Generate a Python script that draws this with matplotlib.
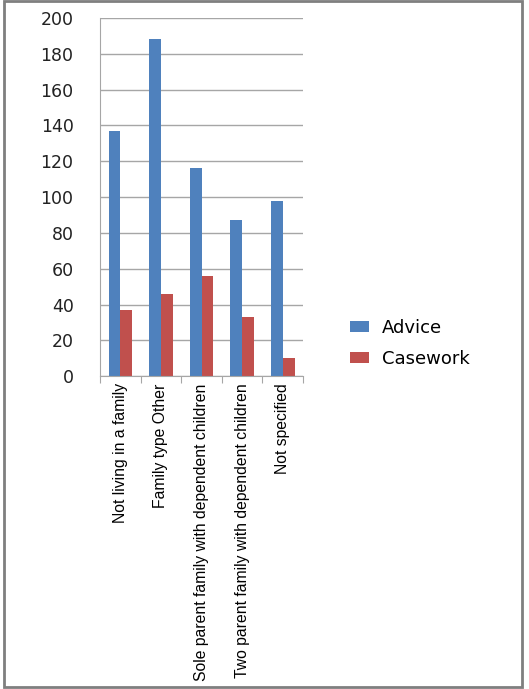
import matplotlib
matplotlib.use("Agg")
from matplotlib import pyplot as plt
from matplotlib.patches import Rectangle
import numpy as np

categories = ["Not living in a family", "Family type Other",
              "Sole parent family with dependent children",
              "Two parent family with dependent children", "Not specified"]
advice = [137, 188, 116, 87, 98]
casework = [37, 46, 56, 33, 10]
yticks = [0, 20, 40, 60, 80, 100, 120, 140, 160, 180, 200]

blue = "#4f81bd"
red = "#c0504d"

fig = plt.figure(figsize=(5.29, 6.89), dpi=100)
ax = fig.add_axes([0.189, 0.454, 0.384, 0.520])

x = np.arange(len(categories))
w = 0.29
ax.bar(x - w / 2, advice, w, color=blue, label="Advice")
ax.bar(x + w / 2, casework, w, color=red, label="Casework")

ax.set_xlim(-0.5, len(categories) - 0.5)
ax.set_ylim(0, 200)
ax.set_yticks(yticks)
ax.set_yticklabels([str(v) for v in yticks], fontsize=12.5, color="#222222")
ax.tick_params(axis="y", length=0, pad=19)
ax.yaxis.grid(True, color="#a6a6a6", linewidth=1)
ax.set_axisbelow(True)

# category labels sit between the tick marks
ax.set_xticks(np.arange(len(categories) + 1) - 0.5)
ax.set_xticklabels([])
ax.set_xticks(x, minor=True)
ax.set_xticklabels(categories, minor=True, rotation=90, fontsize=11.3,
                   family="Liberation Sans", va="top")
ax.tick_params(axis="x", which="major", length=5, color="#a6a6a6")
ax.tick_params(axis="x", which="minor", length=0, pad=5)

for s in ["top", "right"]:
    ax.spines[s].set_visible(False)
ax.spines["left"].set_color("#a6a6a6")
ax.spines["bottom"].set_color("#a6a6a6")

fig.legend(loc="upper left", bbox_to_anchor=(0.63, 0.561), frameon=False,
           fontsize=13, handlelength=1.1, handleheight=0.55,
           handletextpad=0.7, labelspacing=0.75)

fig.patches.append(Rectangle((0.008, 0.003), 0.979, 0.995, transform=fig.transFigure,
                             fill=False, edgecolor="#7f7f7f", linewidth=2))

fig.savefig("out.png", dpi=100)
